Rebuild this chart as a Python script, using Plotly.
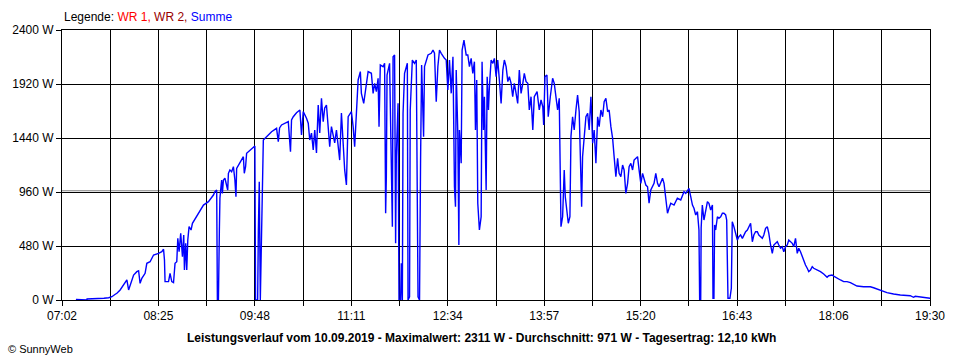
import plotly.graph_objects as go

# ---- data ----
# time in minutes after midnight, power of "Summe" in W
time_min = [
    434.0, 436.6, 437.0, 443.5, 443.6, 457.9, 458.1, 462.2, 465.0, 467.6, 469.3, 472.1, 475.1, 476.2, 477.9,
    479.4, 480.7, 483.7, 486.5, 488.0, 489.3, 490.8, 493.6, 495.1, 497.9, 500.9, 505.2, 508.0, 509.5, 510.3,
    510.8, 513.8, 515.1, 516.6, 518.1, 519.4, 520.9, 521.8, 522.9, 524.3, 525.8, 526.9, 527.5, 528.6, 529.5,
    530.4, 531.5, 533.2, 534.4, 536.1, 538.1, 541.0, 543.9, 548.2, 552.5, 553.8, 555.3, 555.9, 556.8, 557.6,
    558.1, 559.0, 559.6, 560.2, 561.1, 562.4, 563.9, 564.8, 565.4, 566.7, 568.2, 569.7, 571.0, 571.9, 572.5,
    574.0, 576.8, 578.3, 579.1, 580.2, 581.1, 583.9, 586.9, 588.2, 588.8, 590.6, 591.2, 592.0, 592.9, 594.0,
    594.9, 595.5, 598.3, 602.6, 606.9, 608.4, 609.5, 611.2, 617.0, 618.9, 619.8, 621.3, 624.1, 627.0, 628.4,
    629.9, 632.7, 634.2, 635.5, 637.0, 638.5, 639.8, 641.3, 642.8, 644.1, 645.6, 647.1, 648.4, 649.9, 651.4,
    652.7, 654.2, 657.0, 658.5, 661.3, 662.8, 665.6, 667.1, 668.6, 671.4, 672.9, 674.2, 675.7, 677.2, 679.1,
    680.0, 682.0, 683.7, 685.8, 688.6, 690.1, 691.4, 692.9, 694.4, 695.2, 696.3, 698.7, 700.0, 700.9, 701.5,
    702.1, 704.3, 705.8, 706.7, 707.3, 708.6, 709.5, 710.1, 711.6, 712.4, 713.8, 714.4, 715.3, 715.9, 717.2,
    718.7, 719.6, 720.2, 721.5, 722.1, 723.9, 725.8, 727.3, 728.8, 730.1, 731.0, 731.9, 733.6, 734.4, 737.4,
    740.2, 741.7, 743.0, 743.9, 744.5, 745.9, 747.3, 748.8, 750.2, 751.6, 753.1, 754.5, 755.9, 757.4, 758.9,
    760.2, 761.1, 761.7, 763.1, 764.0, 764.5, 766.0, 766.8, 767.9, 768.4, 768.8, 770.3, 771.7, 773.1, 774.6,
    776.0, 777.4, 778.3, 779.4, 780.3, 781.7, 783.2, 784.0, 785.2, 786.0, 787.5, 788.4, 789.5, 790.3, 791.8,
    793.3, 794.6, 796.1, 797.5, 798.9, 800.4, 801.9, 803.2, 804.7, 806.2, 807.5, 809.0, 810.4, 811.8, 813.3,
    814.7, 816.1, 817.6, 819.1, 820.4, 821.9, 823.4, 824.7, 826.2, 827.7, 829.0, 831.4, 833.3, 834.8, 836.3,
    837.1, 838.2, 839.9, 841.0, 842.8, 844.8, 846.2, 847.7, 849.1, 850.5, 851.4, 852.0, 853.4, 854.8, 855.7,
    857.2, 858.3, 859.7, 860.6, 862.0, 863.4, 864.9, 866.3, 867.7, 868.6, 869.8, 870.6, 872.0, 873.5, 875.0,
    876.3, 877.8, 879.3, 880.6, 882.1, 883.6, 884.9, 886.4, 887.9, 889.2, 890.7, 892.2, 893.5, 895.0, 896.5,
    897.8, 899.3, 900.8, 902.1, 903.6, 905.1, 906.4, 907.9, 909.4, 910.7, 912.2, 913.7, 915.0, 916.5, 918.0,
    919.3, 920.8, 922.3, 923.6, 925.1, 926.6, 927.9, 929.4, 930.9, 932.2, 933.7, 935.2, 936.5, 938.0, 939.5,
    940.8, 942.3, 943.8, 945.1, 946.6, 949.4, 952.3, 955.2, 956.7, 958.0, 959.5, 961.0, 962.3, 963.8, 965.3,
    966.6, 968.1, 969.6, 970.9, 971.5, 972.4, 972.8, 973.8, 975.2, 976.7, 978.2, 979.5, 981.0, 982.5, 983.0,
    983.8, 984.4, 985.3, 986.8, 988.1, 989.6, 991.1, 992.4, 993.9, 994.8, 995.9, 997.6, 998.8, 999.6, 1001.0,
    1002.5, 1004.0, 1005.3, 1006.8, 1008.3, 1009.6, 1011.1, 1012.6, 1013.9, 1015.4, 1016.9, 1018.2, 1019.7, 1021.2, 1022.5,
    1024.0, 1025.5, 1026.8, 1028.3, 1029.8, 1031.1, 1032.6, 1034.1, 1035.4, 1036.9, 1038.4, 1039.7, 1041.2, 1042.7, 1044.0,
    1045.5, 1047.0, 1048.3, 1049.8, 1051.3, 1052.6, 1054.1, 1055.6, 1056.9, 1058.4, 1059.9, 1061.2, 1062.7, 1064.2, 1065.5,
    1067.0, 1068.5, 1069.8, 1071.3, 1072.8, 1075.6, 1078.4, 1081.3, 1082.7, 1085.6, 1087.0, 1089.9, 1092.8, 1095.6, 1098.5,
    1101.4, 1104.2, 1107.1, 1112.8, 1118.6, 1121.4, 1127.2, 1132.9, 1138.6, 1144.4, 1153.0, 1155.8, 1157.3, 1161.6, 1167.3,
    1170.2,
]
summe_w = [
    6, 6, 0, 0, 9, 9, 15, 20, 29, 49, 60, 89, 133, 160, 178,
    89, 133, 222, 252, 260, 148, 193, 237, 326, 340, 400, 415, 429, 451, 356,
    163, 163, 237, 163, 154, 326, 340, 548, 429, 593, 385, 578, 267, 504, 267,
    533, 652, 622, 682, 711, 756, 800, 844, 874, 933, 963, 978, 0, 0, 607,
    904, 1007, 1067, 948, 1067, 1082, 1022, 978, 1126, 1156, 1141, 1185, 1067, 918, 1170,
    1200, 1244, 1274, 1126, 1185, 1304, 1333, 1363, 1369, 0, 0, 607, 1052, 0, 667,
    1363, 1422, 1452, 1496, 1526, 1407, 1529, 1556, 1585, 1318, 1600, 1629, 1665, 1689, 1467,
    1674, 1615, 1571, 1422, 1484, 1333, 1511, 1307, 1733, 1484, 1793, 1585, 1707, 1733, 1511,
    1363, 1541, 1396, 1511, 1244, 1662, 1156, 1022, 1629, 1674, 1541, 1363, 1733, 1956, 2030,
    1837, 1748, 1867, 2030, 2015, 1837, 1926, 1852, 1971, 1541, 2089, 2074, 2104, 771, 1096,
    2000, 2104, 1215, 652, 2163, 2178, 504, 1274, 1748, 0, 0, 326, 0, 1660, 2015,
    2074, 2104, 0, 29, 1689, 2133, 2104, 2133, 29, 0, 1244, 2089, 1452, 2074, 2178,
    2193, 2222, 2193, 1926, 1763, 2074, 2222, 2193, 2163, 2148, 2133, 1867, 2133, 1837, 2163,
    1007, 829, 2044, 1482, 489, 1511, 1215, 2222, 2296, 2311, 2281, 2178, 2178, 2074, 2148,
    2015, 2118, 1511, 1956, 860, 622, 740, 2118, 1511, 1807, 978, 1985, 1689, 1896, 2133,
    2104, 2148, 1985, 2133, 1956, 1748, 2044, 2133, 2074, 1941, 1985, 1926, 1807, 1926, 1837,
    1748, 2044, 1837, 1926, 2015, 1941, 1926, 1689, 1807, 1511, 1807, 1852, 1689, 1778, 1718,
    1556, 1985, 2000, 1629, 1807, 1971, 1926, 1822, 1689, 1793, 860, 652, 740, 1156, 918,
    740, 682, 740, 1452, 1629, 1511, 1689, 1822, 1674, 1156, 829, 1274, 1467, 1629, 1660,
    1511, 1807, 1393, 1511, 1215, 1629, 1541, 1689, 1629, 1763, 1793, 1674, 1689, 1541, 1437,
    1274, 1096, 1260, 1126, 1096, 1200, 1156, 948, 1037, 1185, 1215, 1156, 1244, 1260, 1274,
    1156, 1037, 1126, 1067, 1022, 1007, 860, 978, 1007, 1037, 1126, 1037, 1007, 1052, 1082,
    1037, 904, 771, 815, 860, 844, 904, 889, 933, 963, 948, 978, 993, 918, 844,
    815, 756, 785, 622, 0, 0, 640, 844, 711, 815, 874, 860, 800, 844, 15,
    15, 667, 622, 740, 726, 740, 771, 771, 756, 711, 15, 15, 104, 696, 652,
    593, 533, 563, 578, 548, 578, 607, 622, 652, 682, 518, 578, 607, 607, 578,
    563, 548, 578, 637, 652, 593, 489, 415, 489, 504, 518, 489, 460, 474, 429,
    474, 489, 533, 518, 504, 474, 548, 415, 460, 429, 385, 356, 311, 282, 252,
    267, 296, 282, 276, 267, 252, 231, 202, 216, 222, 213, 193, 178, 163, 163,
    154, 140, 124, 118, 118, 109, 89, 65, 53, 44, 38, 24, 33, 27, 18,
    15,
]

x_tick_labels = ["07:02", "08:25", "09:48", "11:11", "12:34", "13:57", "15:20", "16:43", "18:06", "19:30"]
x_start_min = 422   # 07:02
x_end_min = 1170    # 19:30
y_tick_values = [0, 480, 960, 1440, 1920, 2400]

max_w = 2311
avg_w = 971
energy_kwh = "12,10"
date_str = "10.09.2019"

# ---- figure ----
n_major = len(x_tick_labels) - 1
step = (x_end_min - x_start_min) / n_major
tickvals = [x_start_min + i * step / 2 for i in range(2 * n_major + 1)]
ticktext = [x_tick_labels[i // 2] if i % 2 == 0 else "" for i in range(2 * n_major + 1)]

FONT = "Liberation Sans, Arial, sans-serif"

fig = go.Figure()
fig.add_trace(go.Scatter(
    x=time_min, y=summe_w, mode="lines",
    line=dict(color="#0000ff", width=1.4),
    name="Summe", showlegend=False, hoverinfo="skip",
))

# average line
fig.add_shape(type="line", xref="paper", x0=0, x1=1, yref="y", y0=avg_w, y1=avg_w,
              line=dict(color="#808080", width=1), layer="below")

fig.update_layout(
    width=960, height=360,
    margin=dict(l=60, r=30, t=30, b=60),
    paper_bgcolor="white", plot_bgcolor="white",
    font=dict(family=FONT, size=12, color="black"),
    showlegend=False,
)
fig.update_xaxes(
    range=[x_start_min, x_end_min], tickmode="array",
    tickvals=tickvals, ticktext=ticktext,
    showgrid=True, gridcolor="black", gridwidth=1,
    showline=True, linecolor="black", linewidth=1, mirror=True,
    ticks="outside", ticklen=5, tickcolor="black", tickwidth=1,
    zeroline=False, tickfont=dict(family=FONT, size=12, color="black"),
)
fig.update_yaxes(
    range=[0, 2400], tickmode="array", tickvals=y_tick_values,
    ticktext=[f"{v} W" for v in y_tick_values],
    showgrid=True, gridcolor="black", gridwidth=1,
    showline=True, linecolor="black", linewidth=1, mirror=True,
    ticks="outside", ticklen=5, tickcolor="black", tickwidth=1,
    zeroline=False, tickfont=dict(family=FONT, size=12, color="black"),
)

fig.add_annotation(
    xref="paper", yref="paper", x=0, y=(300 - 17) / 270, xanchor="left", yanchor="middle",
    showarrow=False, font=dict(family=FONT, size=12, color="black"),
    text="Legende: <span style='color:#ff0000'>WR 1,</span> <span style='color:#990000'>WR 2,</span> "
         "<span style='color:#0000ff'>Summe</span>",
)
fig.add_annotation(
    xref="paper", yref="paper", x=(480 - 60) / 870, y=(300 - 338) / 270,
    xanchor="center", yanchor="middle", showarrow=False,
    font=dict(family=FONT, size=12, color="black"),
    text=f"<b>Leistungsverlauf vom {date_str} - Maximalwert: {max_w} W - Durchschnitt: {avg_w} W - "
         f"Tagesertrag: {energy_kwh} kWh</b>",
)
fig.add_annotation(
    xref="paper", yref="paper", x=(4 - 60) / 870, y=(300 - 349) / 270,
    xanchor="left", yanchor="middle", showarrow=False,
    font=dict(family=FONT, size=11, color="black"),
    text="© SunnyWeb",
)

fig.write_html("out.html", config={"displayModeBar": False},
               post_script="document.body.style.margin='0';")
